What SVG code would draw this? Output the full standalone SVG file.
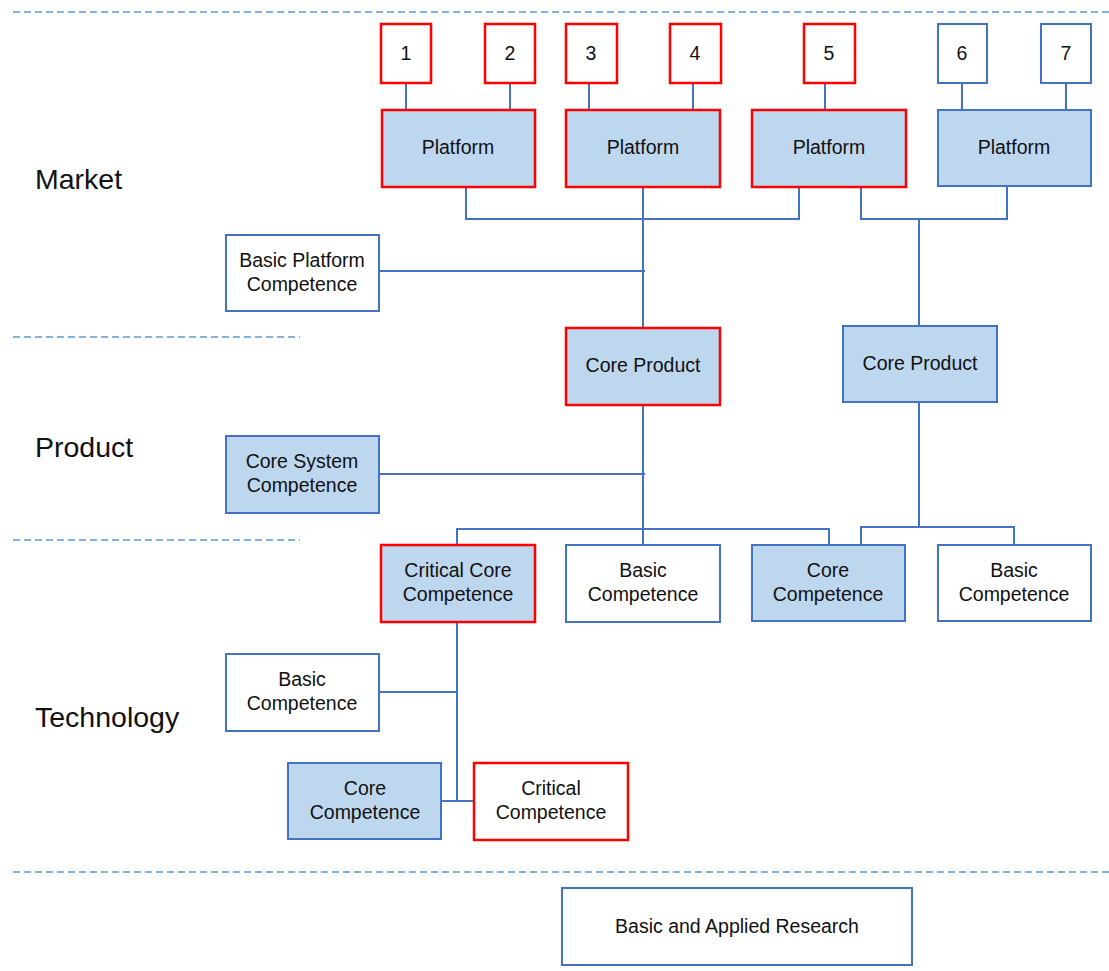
<svg xmlns="http://www.w3.org/2000/svg" width="1109" height="971" viewBox="0 0 1109 971">
  <style>
    .box { fill: #ffffff; stroke: #4472C4; stroke-width: 2; }
    .fill { fill: #BDD7EE; }
    .crit { stroke: #FF0000; stroke-width: 2.5; }
    .lbl { font-family: "Liberation Sans", Arial, sans-serif; font-size: 19.5px; fill: #111111; text-anchor: middle; }
    .tier { font-family: "Liberation Sans", Arial, sans-serif; font-size: 28.5px; fill: #111111; }
    .sep { stroke: #5B9BD5; stroke-width: 1.5; stroke-dasharray: 7 4; fill: none; }
    .wire { stroke: #4472C4; stroke-width: 2; fill: none; }
  </style>

  <rect width="1109" height="971" fill="#ffffff"/>

  <!-- tier separators -->
  <g id="separators">
    <line class="sep" x1="13" y1="12" x2="1109" y2="12"/>
    <line class="sep" x1="13" y1="337" x2="300" y2="337"/>
    <line class="sep" x1="13" y1="540" x2="300" y2="540"/>
    <line class="sep" x1="13" y1="872" x2="1109" y2="872"/>
  </g>

  <!-- tier labels -->
  <g id="tiers">
    <text class="tier" x="35" y="189">Market</text>
    <text class="tier" x="35" y="457">Product</text>
    <text class="tier" x="35" y="727">Technology</text>
  </g>

  <!-- connectors -->
  <g id="connectors">
    <path class="wire" d="M406,83 V110 M510,83 V110 M589,83 V110 M693,83 V110 M825,83 V110 M962,83 V110 M1066,83 V110"/>
    <path class="wire" d="M466,187 V219 H799 V187"/>
    <path class="wire" d="M643,187 V328"/>
    <path class="wire" d="M861,187 V219 H1007 V187"/>
    <path class="wire" d="M919,219 V326"/>
    <path class="wire" d="M379,271 H645"/>
    <path class="wire" d="M379,474 H645"/>
    <path class="wire" d="M643,405 V545"/>
    <path class="wire" d="M457,545 V529 H829 V545"/>
    <path class="wire" d="M919,402 V527"/>
    <path class="wire" d="M861,545 V527 H1014 V545"/>
    <path class="wire" d="M457,622 V801"/>
    <path class="wire" d="M379,692 H457"/>
    <path class="wire" d="M441,801 H474"/>
  </g>

  <!-- market: numbered segments -->
  <g id="n1"><rect class="box crit" x="381" y="24" width="50" height="59"/><text class="lbl" x="406" y="60">1</text></g>
  <g id="n2"><rect class="box crit" x="485" y="24" width="50" height="59"/><text class="lbl" x="510" y="60">2</text></g>
  <g id="n3"><rect class="box crit" x="566" y="24" width="51" height="59"/><text class="lbl" x="591" y="60">3</text></g>
  <g id="n4"><rect class="box crit" x="670" y="24" width="51" height="59"/><text class="lbl" x="695" y="60">4</text></g>
  <g id="n5"><rect class="box crit" x="804" y="24" width="51" height="59"/><text class="lbl" x="829" y="60">5</text></g>
  <g id="n6"><rect class="box" x="938" y="24" width="49" height="59"/><text class="lbl" x="962" y="60">6</text></g>
  <g id="n7"><rect class="box" x="1041" y="24" width="50" height="59"/><text class="lbl" x="1066" y="60">7</text></g>

  <!-- market: platforms -->
  <g id="platform1"><rect class="box fill crit" x="382" y="110" width="153" height="77"/><text class="lbl" x="458" y="154">Platform</text></g>
  <g id="platform2"><rect class="box fill crit" x="566" y="110" width="154" height="77"/><text class="lbl" x="643" y="154">Platform</text></g>
  <g id="platform3"><rect class="box fill crit" x="752" y="110" width="154" height="77"/><text class="lbl" x="829" y="154">Platform</text></g>
  <g id="platform4"><rect class="box fill" x="938" y="110" width="153" height="76"/><text class="lbl" x="1014" y="154">Platform</text></g>

  <g id="basic-platform-competence">
    <rect class="box" x="226" y="235" width="153" height="76"/>
    <text class="lbl" x="302" y="267">Basic Platform</text>
    <text class="lbl" x="302" y="291">Competence</text>
  </g>

  <!-- product -->
  <g id="core-product1"><rect class="box fill crit" x="566" y="328" width="154" height="77"/><text class="lbl" x="643" y="372">Core Product</text></g>
  <g id="core-product2"><rect class="box fill" x="843" y="326" width="154" height="76"/><text class="lbl" x="920" y="370">Core Product</text></g>

  <g id="core-system-competence">
    <rect class="box fill" x="226" y="436" width="153" height="77"/>
    <text class="lbl" x="302" y="468">Core System</text>
    <text class="lbl" x="302" y="492">Competence</text>
  </g>

  <!-- technology -->
  <g id="critical-core-competence">
    <rect class="box fill crit" x="381" y="545" width="154" height="77"/>
    <text class="lbl" x="458" y="577">Critical Core</text>
    <text class="lbl" x="458" y="601">Competence</text>
  </g>
  <g id="basic-competence2">
    <rect class="box" x="566" y="545" width="154" height="77"/>
    <text class="lbl" x="643" y="577">Basic</text>
    <text class="lbl" x="643" y="601">Competence</text>
  </g>
  <g id="core-competence3">
    <rect class="box fill" x="752" y="545" width="153" height="76"/>
    <text class="lbl" x="828" y="577">Core</text>
    <text class="lbl" x="828" y="601">Competence</text>
  </g>
  <g id="basic-competence4">
    <rect class="box" x="938" y="545" width="153" height="76"/>
    <text class="lbl" x="1014" y="577">Basic</text>
    <text class="lbl" x="1014" y="601">Competence</text>
  </g>
  <g id="basic-competence-left">
    <rect class="box" x="226" y="654" width="153" height="77"/>
    <text class="lbl" x="302" y="686">Basic</text>
    <text class="lbl" x="302" y="710">Competence</text>
  </g>
  <g id="core-competence-bottom">
    <rect class="box fill" x="288" y="763" width="153" height="76"/>
    <text class="lbl" x="365" y="795">Core</text>
    <text class="lbl" x="365" y="819">Competence</text>
  </g>
  <g id="critical-competence">
    <rect class="box crit" x="474" y="763" width="154" height="77"/>
    <text class="lbl" x="551" y="795">Critical</text>
    <text class="lbl" x="551" y="819">Competence</text>
  </g>

  <!-- research base -->
  <g id="research">
    <rect class="box" x="562" y="888" width="350" height="77"/>
    <text class="lbl" x="737" y="933" style="font-size:19.5px">Basic and Applied Research</text>
  </g>
</svg>
